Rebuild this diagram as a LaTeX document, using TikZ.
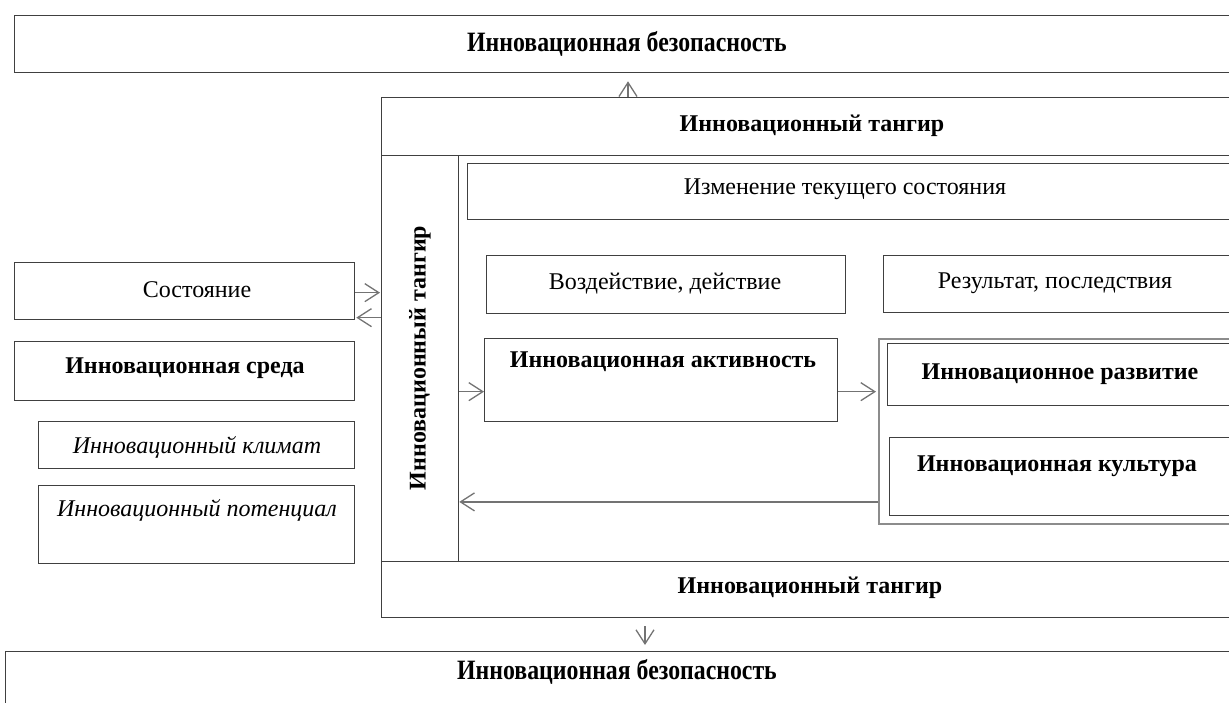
\documentclass[tikz,border=0pt]{standalone}
\usepackage{fontspec}
\setmainfont{Liberation Serif}
\usetikzlibrary{arrows.meta}

\tikzset{
  box/.style={draw=black!75,line width=1.3pt,inner sep=0pt,anchor=north west},
  grpbox/.style={box,draw=black!45,line width=1.8pt},
  arr/.style={draw=black!55,line width=1.3pt,-{Straight Barb[length=14pt,width=18pt,line width=1.3pt]}},
  txt/.style={font=\fontsize{24}{28}\selectfont,inner sep=0pt},
  btxt/.style={txt,font=\fontsize{24}{28}\selectfont\bfseries},
  itxt/.style={txt,font=\fontsize{24}{28}\selectfont\itshape},
  ntxt/.style={txt,font=\fontsize{28}{32}\selectfont\bfseries},
}

\begin{document}
\begin{tikzpicture}[x=1pt,y=-1pt]
\useasboundingbox (0,0) rectangle (1229,702);
\clip (0,0) rectangle (1229,702);

% security, top and bottom
\node[box,minimum width=1240,minimum height=57](bezTop) at (14,15){};
\node[ntxt](bezTopT) at (627,44){\scalebox{0.85}[1]{Инновационная безопасность}};
\node[box,minimum width=1250,minimum height=80](bezBot) at (5,651){};
\node[ntxt](bezBotT) at (617,672){\scalebox{0.85}[1]{Инновационная безопасность}};

% tangir frame
\node[box,minimum width=870,minimum height=58](tangTop) at (381,97){};
\node[btxt](tangTopT) at (812,126){Инновационный тангир};
\node[box,minimum width=870,minimum height=56](tangBot) at (381,561){};
\node[btxt](tangBotT) at (810,588){Инновационный тангир};
\node[box,minimum width=77,minimum height=406](vband) at (381,155){};
\node[btxt,rotate=90](vbandT) at (420,358){Инновационный тангир};

% inside the frame
\node[box,minimum width=800,minimum height=56](izm) at (467,163){};
\node[txt](izmT) at (845,189){Изменение текущего состояния};
\node[box,minimum width=359,minimum height=58](vozd) at (486,255){};
\node[txt](vozdT) at (665,284){Воздействие, действие};
\node[box,minimum width=400,minimum height=57](rez) at (883,255){};
\node[txt](rezT) at (1055,283){Результат, последствия};
\node[box,minimum width=353,minimum height=83](aktiv) at (484,338){};
\node[btxt](aktivT) at (663,362){Инновационная активность};

\node[grpbox,minimum width=400,minimum height=185](grp) at (878,338){};
\node[box,minimum width=400,minimum height=62](razv) at (887,343){};
\node[btxt](razvT) at (1060,374){Инновационное развитие};
\node[box,minimum width=400,minimum height=78](kult) at (889,437){};
\node[btxt](kultT) at (1057,466){Инновационная культура};

% left column
\node[box,minimum width=340,minimum height=57](sost) at (14,262){};
\node[txt](sostT) at (197,290){Состояние};
\node[box,minimum width=340,minimum height=59](sreda) at (14,341){};
\node[btxt](sredaT) at (185,368){Инновационная среда};
\node[box,minimum width=316,minimum height=47](klimat) at (38,421){};
\node[itxt](klimatT) at (197,447){Инновационный климат};
\node[box,minimum width=316,minimum height=78](potenc) at (38,485){};
\node[itxt](potencT) at (197,510){Инновационный потенциал};

% arrows
\coordinate (upA) at ([xshift=247pt]tangTop.north west);
\draw[arr,shorten >=8pt] (upA) -- (upA |- bezTop.south);
\coordinate (dnA) at ([xshift=264pt]tangBot.south west);
\draw[arr,shorten <=8pt,shorten >=6pt] (dnA) -- (dnA |- bezBot.north);

\draw[arr,shorten >=1pt] ([yshift=-1.5pt]sost.east) -- ([yshift=-1.5pt]sost.east -| vband.west);
\draw[arr,shorten >=1pt] ([yshift=-26.5pt]sost.east -| vband.west) -- ([yshift=-26.5pt]sost.east);
\draw[arr] ([yshift=-11.5pt]aktiv.west -| vband.east) -- ([yshift=-11.5pt]aktiv.west);
\draw[arr,shorten >=2pt] ([yshift=-11.5pt]aktiv.east) -- ([yshift=-11.5pt]aktiv.east -| grp.west);
\draw[arr] ([yshift=-70.5pt]grp.west) -- ([yshift=-70.5pt]grp.west -| vband.east);
\end{tikzpicture}
\end{document}
